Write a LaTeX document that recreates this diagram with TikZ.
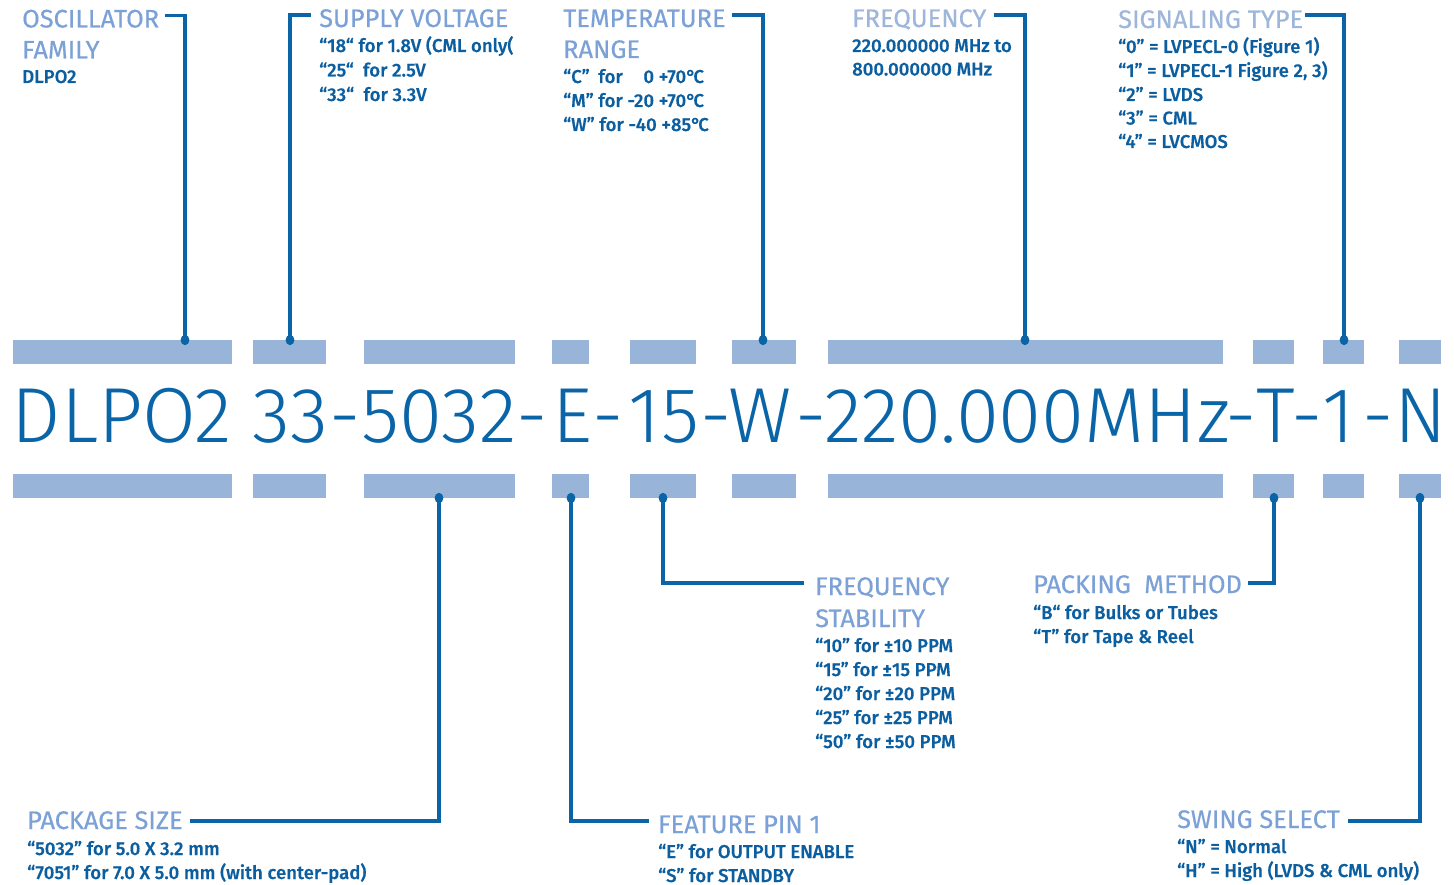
\documentclass[tikz,border=0pt]{standalone}
\usepackage{fontspec}
\setmainfont{Fira Sans}
\newfontfamily\headfont{Fira Sans}[FakeBold=0.45]
\newfontfamily\bodyfont{Fira Sans}[UprightFont={* Medium}, FakeBold=0.35]
\newfontfamily\bigfont{Fira Sans}[UprightFont={* Light}]
\newcommand{\dg}{°\kern-2.5pt}
\definecolor{barc}{HTML}{98B4D8}
\definecolor{linec}{HTML}{0A64A6}
\definecolor{headc}{HTML}{7BA1D6}
\definecolor{headl}{HTML}{9DB6DA}
\definecolor{bodyc}{HTML}{0B5E9F}
\definecolor{bigc}{HTML}{0A64A8}
\tikzset{
  head/.style={anchor=base west, inner sep=0pt, font=\headfont\fontsize{25.4}{25.4}\selectfont, text=headc},
  body/.style={anchor=base west, inner sep=0pt, font=\bodyfont\fontsize{18.6}{18.6}\selectfont, text=bodyc},
  bar/.style={fill=barc, draw=none, inner sep=0pt, anchor=north west, minimum height=24pt},
  conn/.style={draw=linec, line width=3.2pt},
  dotm/.style={fill=linec},
  bigseg/.style={anchor=base, inner sep=0pt, font=\bigfont\fontsize{78}{78}\selectfont, text=bigc},
}
\begin{document}
\begin{tikzpicture}[x=1pt,y=-1pt]
\useasboundingbox (0,0) rectangle (1454,885);
% bars
\foreach \n/\a/\b in {1/13/232,2/253/326,3/364/515,4/552/589,5/630/696,6/732/796,7/828/1223,8/1253/1294,9/1323/1364,10/1399/1441}{
  \node[bar, minimum width={(\b-\a)*1pt}] (t\n) at (\a,340) {};
  \node[bar, minimum width={(\b-\a)*1pt}] (u\n) at (\a,474) {};
}
% part number
\node[bigseg] (s1) at (122,442) {DLPO2};
\node[bigseg] (s2) at (290.5,442) {33};
\node[bigseg] (h1) at (345.5,442) {-};
\node[bigseg] (s3) at (439,442) {5032};
\node[bigseg] (h2) at (532,442) {-};
\node[bigseg] (s4) at (572,442) {E};
\node[bigseg] (h3) at (608,442) {-};
\node[bigseg] (s5) at (664,442) {15};
\node[bigseg] (h4) at (716.5,442) {-};
\node[bigseg] (s6) at (760.5,442) {W};
\node[bigseg] (h5) at (811.5,442) {-};
\node[bigseg] (s7) at (1027,442) {220.000MHz};
\node[bigseg] (h6) at (1241,442) {-};
\node[bigseg] (s8) at (1275.5,442) {T};
\node[bigseg] (h7) at (1307,442) {-};
\node[bigseg] (s9) at (1339,442) {1};
\node[bigseg] (h8) at (1378,442) {-};
\node[bigseg] (s10) at (1420.5,442) {N};
% dot positions
\coordinate (d1) at (185,340);
\coordinate (d2) at (290,340);
\coordinate (d6) at (763,340);
\coordinate (d7) at (1025,340);
\coordinate (d9) at (1344,340);
\coordinate (d3) at (439,498);
\coordinate (d4) at (571,498);
\coordinate (d5) at (663,498);
\coordinate (d8) at (1274,498);
\coordinate (d10) at (1420,498);
% top labels
\node[head] (oscH) at (22,27.5) {OSCILLATOR};
\node[head] (oscH2) at (22,58.5) {FAMILY};
\node[body] (osc1) at (22,83) {DLPO2};

\node[head] (svH) at (319,27) {SUPPLY VOLTAGE};
\node[body] (sv1) at (319,52) {“18“ for 1.8V (CML only(};
\node[body] (sv2) at (319,76.5) {“25“\ \ for 2.5V};
\node[body] (sv3) at (319,101) {“33“\ \ for 3.3V};

\node[head] (tpH) at (563,27) {TEMPERATURE};
\node[head] (tpH2) at (563,58) {RANGE};
\node[body] (tp1) at (563,83) {\rlap{“C”}\phantom{“M”} for \phantom{-2}0 +70\dg C};
\node[body] (tp2) at (563,107) {“M” for -20 +70\dg C};
\node[body] (tp3) at (563,131) {“W” for -40 +85\dg C};

\node[head, text=headl] (frH) at (852,27) {FREQUENCY};
\node[body] (fr1) at (852,52) {220.000000 MHz to};
\node[body] (fr2) at (852,75.5) {800.000000 MHz};

\node[head, text=headl] (sgH) at (1118,28) {SIGNALING TYPE};
\node[body] (sg1) at (1118,53) {“0” = LVPECL-0 (Figure 1)};
\node[body] (sg2) at (1118,77) {“1” = LVPECL-1 Figure 2, 3)};
\node[body] (sg3) at (1118,101) {“2” = LVDS};
\node[body] (sg4) at (1118,124.5) {“3” = CML};
\node[body] (sg5) at (1118,148) {“4” = LVCMOS};

% bottom labels
\node[head] (pkH) at (27,829) {PACKAGE SIZE};
\node[body] (pk1) at (27,855) {“5032” for 5.0 X 3.2 mm};
\node[body] (pk2) at (27,879) {“7051” for 7.0 X 5.0 mm (with center-pad)};

\node[head] (ftH) at (658,833) {FEATURE PIN 1};
\node[body] (ft1) at (658,858) {“E” for OUTPUT ENABLE};
\node[body] (ft2) at (658,882) {“S” for STANDBY};

\node[head] (fsH) at (815,595) {FREQUENCY};
\node[head] (fsH2) at (815,627) {STABILITY};
\node[body] (fs1) at (815,652) {“10” for ±10 PPM};
\node[body] (fs2) at (815,676) {“15” for ±15 PPM};
\node[body] (fs3) at (815,700) {“20” for ±20 PPM};
\node[body] (fs4) at (815,724) {“25” for ±25 PPM};
\node[body] (fs5) at (815,748) {“50” for ±50 PPM};

\node[head] (paH) at (1033,593) {PACKING\ \ METHOD};
\node[body] (pa1) at (1033,619) {“B“ for Bulks or Tubes};
\node[body] (pa2) at (1033,643) {“T” for Tape \& Reel};

\node[head] (swH) at (1177,828) {SWING SELECT};
\node[body] (sw1) at (1177,853) {“N” = Normal};
\node[body] (sw2) at (1177,877) {“H” = High (LVDS \& CML only)};

% connectors
\draw[conn] (oscH.base east) ++(6,-12) -| (d1);
\draw[conn] (svH.base west) ++(-8,-12) -| (d2);
\draw[conn] (tpH.base east) ++(6,-12) -| (d6);
\draw[conn] (frH.base east) ++(7,-12) -| (d7);
\draw[conn] (sgH.base east) ++(2,-13) -| (d9);
\draw[conn] (d3) |- ([shift={(7,-8)}]pkH.base east);
\draw[conn] (d4) |- ([shift={(-9,-12)}]ftH.base west);
\draw[conn] (d5) |- ([shift={(-11,-12)}]fsH.base west);
\draw[conn] (d8) |- ([shift={(6,-10)}]paH.base east);
\draw[conn] (d10) |- ([shift={(8,-7)}]swH.base east);
% dots
\foreach \d in {d1,d2,d6,d7,d9,d3,d4,d5,d8,d10}{
  \fill[dotm] (\d) ellipse (4.4 and 5.2);
}
\end{tikzpicture}
\end{document}
